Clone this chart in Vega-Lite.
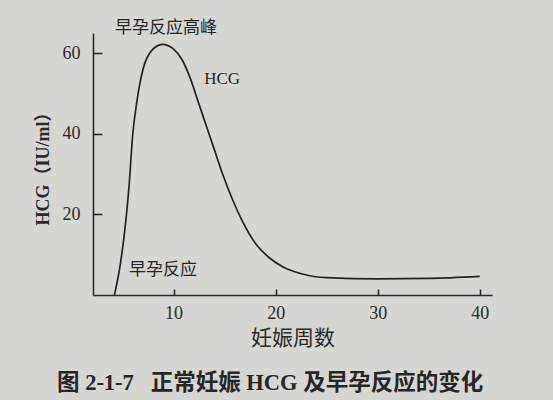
{
  "$schema": "https://vega.github.io/schema/vega-lite/v6.json",
  "autosize": "none",
  "width": 399,
  "height": 262,
  "padding": {"left": 93, "top": 33, "right": 61, "bottom": 105},
  "background": "#d6d6d3",
  "title": {
    "text": "图 2-1-7\u00a0\u00a0\u00a0正常妊娠 HCG 及早孕反应的变化",
    "orient": "bottom",
    "anchor": "start",
    "dx": 23,
    "offset": 24,
    "font": "Liberation Serif, Noto Sans CJK SC",
    "fontSize": 22.5,
    "fontWeight": "bold",
    "color": "#262626"
  },
  "config": {
    "view": {"stroke": null},
    "axis": {
      "grid": false,
      "domainColor": "#2a2a2a",
      "domainWidth": 1.6,
      "tickColor": "#2a2a2a",
      "tickWidth": 1.6,
      "labelFont": "Liberation Serif",
      "labelFontSize": 18,
      "labelColor": "#2a2a2a",
      "titleFont": "Liberation Serif, Noto Sans CJK SC",
      "titleColor": "#2a2a2a"
    }
  },
  "resolve": {"axis": {"x": "independent", "y": "independent"}},
  "data": {
    "values": [
      {"week": 4.2, "hcg": 0},
      {"week": 4.8, "hcg": 8},
      {"week": 5.3, "hcg": 18},
      {"week": 5.6, "hcg": 26},
      {"week": 6.0, "hcg": 40},
      {"week": 6.4, "hcg": 48},
      {"week": 7.0, "hcg": 56},
      {"week": 7.8, "hcg": 60.5},
      {"week": 8.9, "hcg": 62.2},
      {"week": 10.0, "hcg": 61},
      {"week": 10.8, "hcg": 58.5},
      {"week": 11.6, "hcg": 54},
      {"week": 12.4, "hcg": 48},
      {"week": 13.2, "hcg": 42},
      {"week": 14.0, "hcg": 36},
      {"week": 14.8, "hcg": 30},
      {"week": 15.8, "hcg": 23.5},
      {"week": 16.7, "hcg": 18.5},
      {"week": 18.1, "hcg": 12.5},
      {"week": 19.5, "hcg": 9},
      {"week": 20.7, "hcg": 7},
      {"week": 22.6, "hcg": 5.2},
      {"week": 25, "hcg": 4.3},
      {"week": 30, "hcg": 4.0},
      {"week": 35, "hcg": 4.1},
      {"week": 40, "hcg": 4.6}
    ]
  },
  "layer": [
    {
      "mark": {"type": "line", "interpolate": "monotone", "color": "#222222", "strokeWidth": 1.7},
      "encoding": {
        "x": {
          "field": "week",
          "type": "quantitative",
          "scale": {"domain": [2.1, 41.2], "nice": false, "zero": false},
          "axis": {
            "orient": "bottom",
            "values": [10, 20, 30, 40],
            "title": "妊娠周数",
            "titleFontSize": 21,
            "titleFontWeight": "normal",
            "titlePadding": 5,
            "ticks": false,
            "tickSize": 0,
            "labelPadding": 9
          }
        },
        "y": {
          "field": "hcg",
          "type": "quantitative",
          "scale": {"domain": [0, 65], "nice": false},
          "axis": {
            "orient": "left",
            "values": [20, 40, 60],
            "title": "HCG（IU/ml）",
            "titleFontSize": 18,
            "titleFontWeight": "bold",
            "titlePadding": 10,
            "ticks": false,
            "tickSize": 0,
            "labelPadding": 13
          }
        }
      }
    },
    {
      "data": {
        "values": [
          {"week": 9.26, "hcg": 66.3, "label": "早孕反应高峰"},
          {"week": 14.75, "hcg": 53.6, "label": "HCG"},
          {"week": 8.97, "hcg": 6.2, "label": "早孕反应"}
        ]
      },
      "mark": {
        "type": "text",
        "font": "Liberation Serif, Noto Sans CJK SC",
        "fontSize": 17,
        "color": "#262626",
        "clip": false
      },
      "encoding": {
        "x": {
          "field": "week",
          "type": "quantitative",
          "axis": {
            "orient": "top",
            "offset": -262,
            "values": [10, 20, 30, 40],
            "domain": false,
            "labels": false,
            "title": null,
            "ticks": true,
            "tickSize": 6
          }
        },
        "y": {
          "field": "hcg",
          "type": "quantitative",
          "axis": {
            "orient": "right",
            "offset": -399,
            "values": [20, 40, 60],
            "domain": false,
            "labels": false,
            "title": null,
            "ticks": true,
            "tickSize": 9
          }
        },
        "text": {"field": "label"}
      }
    }
  ]
}
